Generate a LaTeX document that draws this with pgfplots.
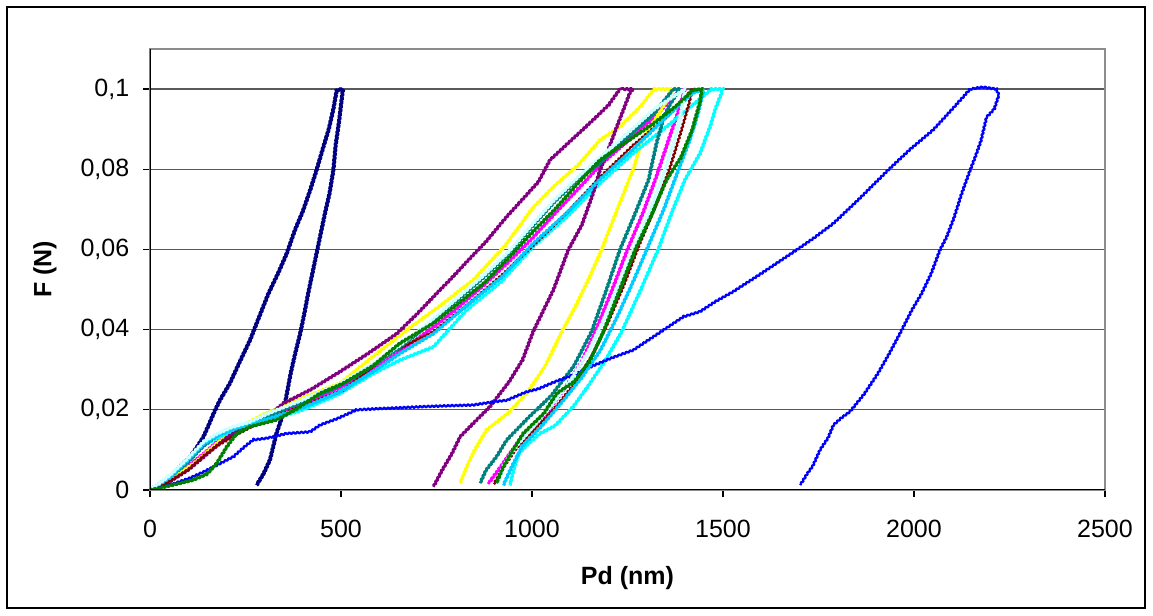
\documentclass[border=0pt]{standalone}
\usepackage{fontspec}
\setmainfont{Liberation Sans}
\usepackage{pgfplots}
\pgfplotsset{compat=1.18}
\usetikzlibrary{decorations.pathmorphing}
\definecolor{xlnavy}{RGB}{0,0,128}
\definecolor{xlmagenta}{RGB}{255,0,255}
\definecolor{xlyellow}{RGB}{255,255,0}
\definecolor{xlcyan}{RGB}{0,255,255}
\definecolor{xlpurple}{RGB}{128,0,128}
\definecolor{xldarkred}{RGB}{128,0,0}
\definecolor{xlteal}{RGB}{0,128,128}
\definecolor{xlblue}{RGB}{0,0,255}
\definecolor{xlsky}{RGB}{0,204,255}
\definecolor{xlpale}{RGB}{204,255,255}
\definecolor{xlgreen}{RGB}{0,128,0}

\begin{document}
\begin{tikzpicture}[font=\fontsize{10}{12}\selectfont]
\useasboundingbox (-60pt,-50.4pt) rectangle (401.2pt,196pt);
\draw[black, line width=0.5pt] (-57.2pt,-47.2pt) rectangle (398pt,193.2pt);
\begin{axis}[
  at={(0,0)}, anchor=south west,
  scale only axis, width=382pt, height=176.4pt,
  xmin=0, xmax=2500, ymin=0, ymax=0.11,
  xtick={0,500,1000,1500,2000,2500},
  ytick={0,0.02,0.04,0.06,0.08,0.1},
  xtick pos=bottom, ytick pos=left,
  tick align=outside, major tick length=2.8pt,
  tick style={black, line width=0.5pt},
  ymajorgrids, grid style={black!65, line width=0.5pt},
  axis line style={draw=black!45, line width=0.5pt},
  /pgf/number format/assume math mode=true,
  /pgf/number format/use comma,
  /pgf/number format/1000 sep={},
  yticklabel style={/pgf/number format/fixed, /pgf/number format/precision=2, xshift=-2pt},
  xticklabel style={yshift=-5.5pt},
  every axis plot/.append style={line width=1.1pt, line join=round,
    decorate, decoration={zigzag, segment length=1.6pt, amplitude=0.35pt}},
]
% navy
\addplot[xlnavy, line width=1.3pt] coordinates {
 (0,0) (25,0.0015) (52,0.0033) (80,0.006) (105,0.0083) (125,0.011) (140,0.0133)
 (155,0.0165) (166,0.019) (183,0.0224) (209,0.0266) (235,0.032) (262,0.0374)
 (285,0.043) (310,0.049) (335,0.054) (358,0.059) (380,0.065) (400,0.0695)
 (420,0.075) (436,0.0798) (452,0.085) (468,0.090) (480,0.095) (489,0.0998) (505,0.1)
 (500,0.096) (495,0.092) (486,0.086) (480,0.0798) (470,0.074) (458,0.069)
 (447,0.064) (436,0.059) (425,0.054) (414,0.049) (404,0.044) (393,0.039)
 (380,0.034) (368,0.029) (355,0.0224) (345,0.018) (331,0.0141) (314,0.0075)
 (297,0.004) (279,0.0012)};
% magenta
\addplot[xlmagenta] coordinates {
 (0,0) (50,0.0025) (100,0.006) (140,0.009) (175,0.012) (230,0.015) (300,0.018)
 (400,0.0215) (497,0.0255) (584,0.030) (660,0.035) (733,0.040) (800,0.045)
 (873,0.051) (940,0.057) (1003,0.063) (1060,0.069) (1120,0.075) (1178,0.081)
 (1250,0.087) (1320,0.093) (1380,0.099) (1400,0.1)
 (1385,0.095) (1360,0.088) (1325,0.078) (1290,0.069) (1250,0.060) (1210,0.050)
 (1168,0.040) (1130,0.032) (1090,0.026) (1045,0.020) (990,0.015) (945,0.0095)
 (912,0.005) (885,0.0015)};
% yellow
\addplot[xlyellow] coordinates {
 (0,0) (60,0.003) (120,0.007) (180,0.012) (240,0.016) (300,0.019) (400,0.023)
 (497,0.0266) (580,0.033) (672,0.0399) (760,0.046) (846,0.0524) (930,0.061)
 (1003,0.0705) (1060,0.076) (1120,0.081) (1178,0.0873) (1230,0.0906) (1283,0.0956)
 (1320,0.1) (1366,0.1)
 (1352,0.097) (1320,0.092) (1291,0.088) (1265,0.080) (1240,0.074) (1215,0.068)
 (1182,0.0599) (1150,0.053) (1115,0.046) (1078,0.0395) (1035,0.031) (986,0.0241)
 (935,0.019) (881,0.015) (850,0.010) (830,0.006) (812,0.0017)};
% cyan
\addplot[xlcyan] coordinates {
 (0,0) (50,0.003) (100,0.007) (140,0.011) (175,0.013) (230,0.015) (300,0.017)
 (400,0.020) (497,0.024) (584,0.029) (654,0.0324) (742,0.0357) (829,0.0449)
 (920,0.052) (1003,0.0607) (1090,0.068) (1178,0.0765) (1265,0.084) (1352,0.0906)
 (1420,0.096) (1470,0.1) (1500,0.1)
 (1480,0.095) (1466,0.0906) (1440,0.084) (1400,0.0773) (1365,0.069) (1330,0.0599)
 (1285,0.050) (1235,0.0395) (1190,0.032) (1140,0.025) (1108,0.0208)
 (1060,0.016) (1021,0.0141) (990,0.0115) (965,0.009) (952,0.005) (942,0.0012)};
% purple
\addplot[xlpurple] coordinates {
 (0,0) (50,0.002) (100,0.005) (150,0.009) (200,0.013) (250,0.016) (297,0.0175)
 (349,0.0216) (420,0.025) (497,0.0295) (570,0.034) (646,0.039) (700,0.044)
 (750,0.049) (785,0.0524) (830,0.057) (880,0.062) (934,0.0682) (980,0.073)
 (1017,0.0769) (1047,0.0823) (1100,0.087) (1160,0.0923) (1200,0.096) (1230,0.1) (1265,0.1)
 (1257,0.0993) (1240,0.095) (1222,0.0906) (1200,0.085) (1178,0.0798) (1160,0.074)
 (1130,0.066) (1095,0.0599) (1056,0.0499) (1003,0.0395) (975,0.0324) (940,0.027)
 (890,0.0208) (850,0.017) (812,0.0133) (790,0.009) (765,0.005) (742,0.0008)};
% dark red
\addplot[xldarkred, line width=0.8pt] coordinates {
 (0,0) (50,0.002) (100,0.005) (140,0.0085) (175,0.011) (230,0.014) (300,0.0175)
 (400,0.021) (506,0.0249) (628,0.0341) (742,0.0395) (829,0.046) (920,0.0535)
 (1003,0.061) (1090,0.069) (1178,0.078) (1265,0.086) (1352,0.093) (1420,0.1)
 (1410,0.096) (1392,0.090) (1360,0.080) (1320,0.070) (1280,0.061) (1240,0.051)
 (1200,0.042) (1160,0.034) (1115,0.027) (1065,0.021) (1010,0.0155) (960,0.0105)
 (928,0.006) (900,0.0015)};
% teal
\addplot[xlteal] coordinates {
 (0,0) (50,0.003) (100,0.007) (140,0.011) (175,0.0135) (210,0.015) (262,0.0165)
 (320,0.019) (400,0.022) (497,0.026) (584,0.031) (660,0.036) (733,0.0415)
 (800,0.047) (873,0.053) (940,0.059) (1003,0.066) (1060,0.072) (1120,0.0775)
 (1178,0.0815) (1250,0.088) (1320,0.094) (1370,0.1) (1387,0.1)
 (1360,0.096) (1345,0.093) (1326,0.0865) (1305,0.0773) (1270,0.069) (1230,0.0599)
 (1195,0.050) (1156,0.0395) (1110,0.031) (1050,0.0235) (990,0.018)
 (934,0.0125) (907,0.0083) (880,0.005) (864,0.0017)};
% blue
\addplot[xlblue, line width=0.9pt] coordinates {
 (0,0) (60,0.0015) (105,0.003) (140,0.0045) (175,0.0062) (218,0.0083) (250,0.011)
 (270,0.0125) (305,0.0129) (358,0.0141) (419,0.0145) (445,0.0162) (490,0.0178)
 (541,0.020) (600,0.0203) (654,0.0205) (716,0.0208) (780,0.021) (846,0.0212)
 (900,0.022) (934,0.0224) (986,0.0245) (1016,0.0252) (1060,0.027) (1108,0.0287)
 (1160,0.031) (1210,0.033) (1265,0.0349) (1330,0.039) (1396,0.0432) (1440,0.0445)
 (1480,0.047) (1527,0.0495) (1600,0.054) (1693,0.0599) (1740,0.063) (1789,0.0665)
 (1850,0.072) (1928,0.0794) (1990,0.085) (2050,0.0898) (2100,0.095) (2147,0.1)
 (2180,0.1005) (2216,0.1)
 (2222,0.0985) (2210,0.095) (2190,0.093) (2175,0.087) (2160,0.083) (2147,0.0798)
 (2125,0.074) (2105,0.068) (2085,0.063) (2068,0.0599) (2045,0.054) (2020,0.049)
 (1995,0.045) (1963,0.039) (1935,0.034) (1905,0.029) (1870,0.024) (1832,0.0195)
 (1810,0.018) (1789,0.0162) (1775,0.013) (1754,0.01) (1735,0.006) (1720,0.004)
 (1702,0.0012)};
% sky blue
\addplot[xlsky] coordinates {
 (0,0) (50,0.003) (100,0.0075) (140,0.0115) (175,0.0135) (230,0.0155) (300,0.0175)
 (400,0.0205) (497,0.0245) (584,0.0295) (654,0.034) (742,0.039) (829,0.046)
 (920,0.053) (1003,0.0615) (1090,0.069) (1178,0.0775) (1265,0.085) (1340,0.092)
 (1420,0.099) (1450,0.1)
 (1435,0.094) (1412,0.087) (1380,0.079) (1345,0.070) (1305,0.061) (1265,0.052)
 (1222,0.043) (1180,0.035) (1130,0.028) (1075,0.0215) (1021,0.0155) (975,0.011)
 (948,0.006) (925,0.0012)};
% pale turquoise
\addplot[xlpale] coordinates {
 (0,0) (50,0.0035) (100,0.008) (140,0.012) (175,0.014) (210,0.0155) (262,0.017)
 (320,0.0195) (400,0.0225) (497,0.0265) (584,0.0315) (660,0.0365) (733,0.042)
 (800,0.0475) (873,0.0535) (940,0.0595) (1003,0.0665) (1060,0.0725) (1120,0.078)
 (1178,0.083) (1250,0.089) (1320,0.095) (1400,0.1)
 (1392,0.095) (1375,0.088) (1345,0.079) (1310,0.070) (1270,0.061) (1230,0.052)
 (1190,0.043) (1150,0.035) (1105,0.028) (1055,0.0215) (1000,0.0155) (955,0.0105)
 (925,0.006) (910,0.0015)};
% green
\addplot[xlgreen] coordinates {
 (0,0) (26,0.0005) (70,0.0015) (113,0.0025) (150,0.004) (175,0.0067) (201,0.0108)
 (227,0.0141) (262,0.0158) (331,0.0175) (380,0.020) (445,0.0241) (506,0.0266)
 (584,0.031) (654,0.0366) (742,0.0416) (800,0.046) (873,0.0515) (940,0.058)
 (1003,0.0645) (1060,0.070) (1120,0.0765) (1178,0.0823) (1250,0.087) (1318,0.0914)
 (1380,0.096) (1422,0.0998) (1445,0.1)
 (1440,0.097) (1420,0.090) (1390,0.083) (1352,0.0773) (1310,0.068) (1270,0.0599)
 (1230,0.050) (1187,0.0395) (1150,0.032) (1110,0.027) (1065,0.0241) (1030,0.019)
 (977,0.0141) (950,0.010) (925,0.0058) (907,0.0017)};
\draw[black, line width=0.6pt] (rel axis cs:0,1) -- (rel axis cs:0,0) -- (rel axis cs:1,0);
\end{axis}
\node[rotate=90, font=\fontsize{10}{12}\selectfont\bfseries] at (-42pt,88.2pt) {F (N)};
\node[font=\fontsize{10}{12}\selectfont\bfseries] at (191pt,-35.2pt) {Pd (nm)};
\end{tikzpicture}
\end{document}
